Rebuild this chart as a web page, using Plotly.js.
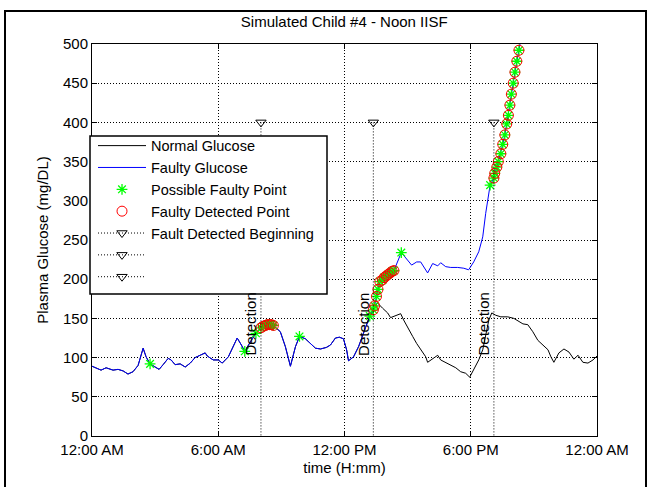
<!DOCTYPE html>
<html>
<head>
<meta charset="utf-8">
<script src="https://cdn.plot.ly/plotly-3.0.1.min.js"></script>
<style>
  html, body { margin: 0; padding: 0; background: #fff; }
  #chart { width: 652px; height: 487px; }
</style>
</head>
<body>
<div id="chart"></div>
<script>
// ---- data (time in hours since midnight, glucose in mg/dL) ----
const faultyTime = [0.00,0.19,0.43,0.67,0.86,1.00,1.24,1.48,1.71,1.95,2.19,2.43,2.57,2.76,3.00,3.19,3.38,3.62,3.76,3.95,4.19,4.43,4.67,4.90,5.14,5.38,5.48,5.76,6.00,6.19,6.48,6.71,6.90,7.10,7.26,7.57,7.79,8.03,8.14,8.24,8.33,8.43,8.52,8.62,8.95,9.19,9.43,9.67,9.86,10.14,10.38,10.62,10.86,11.14,11.33,11.57,11.76,11.95,12.10,12.19,12.43,12.67,12.90,13.20,13.37,13.43,13.52,13.59,13.68,13.80,13.88,13.98,14.07,14.17,14.26,14.35,14.70,14.90,15.19,15.43,15.62,15.95,16.19,16.43,16.57,16.81,17.05,17.38,17.67,17.90,18.14,18.38,18.57,18.71,18.86,18.92,19.10,19.14,19.24,19.31,19.43,19.52,19.62,19.71,19.79,19.86,19.93,20.02,20.10,20.19,20.29,20.38];
const faultyGlucose = [89,87,84,87,85,84,85,83,79,82,90,112,101,92,88,85,91,99,97,91,92,88,93,100,103,106,102,97,97,93,101,114,125,116,108,122,131,138,140,141,142,142,142,141,133,114,89,114,127,124,118,112,111,113,116,125,126,124,110,96,101,114,131,153,161,166,178,187,197,199,202,204,206,208,210,211,234,227,218,222,222,208,220,217,221,216,215,215,214,212,222,235,254,284,314,320,329,335,343,350,360,372,384,398,409,422,436,450,464,478,492,506];

const normalTime = [0.00,0.19,0.43,0.67,0.86,1.00,1.24,1.48,1.71,1.95,2.19,2.43,2.57,2.76,3.00,3.19,3.38,3.62,3.76,3.95,4.19,4.43,4.67,4.90,5.14,5.38,5.48,5.76,6.00,6.19,6.48,6.71,6.90,7.10,7.26,7.57,7.79,8.03,8.14,8.24,8.33,8.43,8.52,8.62,8.95,9.19,9.43,9.67,9.86,10.14,10.38,10.62,10.86,11.14,11.33,11.57,11.76,11.95,12.10,12.19,12.43,12.67,12.90,13.20,13.38,13.56,13.81,14.05,14.19,14.43,14.67,14.81,15.00,15.24,15.43,15.62,15.86,15.95,16.19,16.43,16.57,16.81,17.05,17.29,17.52,17.76,17.95,18.14,18.38,18.57,18.71,18.86,19.00,19.19,19.43,19.76,20.05,20.29,20.48,20.71,20.95,21.19,21.43,21.67,21.81,21.95,22.19,22.43,22.67,22.90,23.10,23.33,23.57,23.81,24.00];
const normalGlucose = [89,87,84,87,85,84,85,83,79,82,90,112,101,92,88,85,91,99,97,91,92,88,93,100,103,106,102,97,97,93,101,114,125,116,108,122,131,138,140,141,142,142,142,141,133,114,89,114,127,124,118,112,111,113,116,125,126,124,110,96,101,114,131,153,160,170,163,157,151,153,156,148,138,127,118,110,101,94,99,103,97,94,91,87,82,80,75,84,97,110,129,148,157,154,152,152,150,146,143,142,133,122,116,110,101,94,106,111,107,98,103,94,93,97,102];

const possibleTime = [2.76,7.26,7.79,9.86,13.20,14.70,18.92,
  8.03,8.14,8.24,8.33,8.43,8.52,8.62,
  13.37,13.43,13.52,13.59,13.68,13.80,13.88,13.98,14.07,14.17,14.26,14.35,
  19.10,19.14,19.24,19.31,19.43,19.52,19.62,19.71,19.79,19.86,19.93,20.02,20.10,20.19,20.29];
const possibleGlucose = [92,108,131,127,153,234,320,
  138,140,141,142,142,142,141,
  161,166,178,187,197,199,202,204,206,208,210,211,
  329,335,343,350,360,372,384,398,409,422,436,450,464,478,492];

const detectedTime = [8.03,8.14,8.24,8.33,8.43,8.52,8.62,
  13.37,13.43,13.52,13.59,13.68,13.80,13.88,13.98,14.07,14.17,14.26,14.35,
  19.10,19.14,19.24,19.31,19.43,19.52,19.62,19.71,19.79,19.86,19.93,20.02,20.10,20.19,20.29];
const detectedGlucose = [138,140,141,142,142,142,141,
  161,166,178,187,197,199,202,204,206,208,210,211,
  329,335,343,350,360,372,384,398,409,422,436,450,464,478,492];

const detectionStart = [8.03, 13.37, 19.10];
const detectionMarkerLevel = 400;
const detectionLabelLevel = 100;
const detectionNames = ['Fault Detected Beginning', ' ', ' '];

const tickHours = [0, 6, 12, 18, 24];
const tickLabels = ['12:00 AM', '6:00 AM', '12:00 PM', '6:00 PM', '12:00 AM'];

// ---- traces ----
const FONT = 'Liberation Sans, Arial, Helvetica, sans-serif';
const FS = 15;
const traces = [
  { x: normalTime, y: normalGlucose, mode: 'lines', name: 'Normal Glucose',
    line: { color: '#000000', width: 1 } },
  { x: faultyTime, y: faultyGlucose, mode: 'lines', name: 'Faulty Glucose',
    line: { color: '#0000ff', width: 1 } },
  { x: possibleTime, y: possibleGlucose, mode: 'markers', name: 'Possible Faulty Point',
    marker: { symbol: 'asterisk-open', size: 9, color: '#00ff00', line: { color: '#00ff00', width: 1.3 } } },
  { x: detectedTime, y: detectedGlucose, mode: 'markers', name: 'Faulty Detected Point',
    marker: { symbol: 'circle-open', size: 10, color: '#ff0000', line: { color: '#ff0000', width: 1 } } }
];
detectionStart.forEach((t, i) => {
  traces.push({
    x: [t, t], y: [detectionMarkerLevel, -60], mode: 'lines+markers', name: detectionNames[i],
    line: { color: '#000000', width: 1, dash: '1px,2px' },
    marker: { symbol: 'triangle-down-open', size: 9, color: '#000000', line: { color: '#000000', width: 1 } }
  });
});

const annotations = detectionStart.map(t => ({
  x: t, y: detectionLabelLevel, xref: 'x', yref: 'y', text: 'Detection',
  textangle: -90, showarrow: false, xanchor: 'right', yanchor: 'bottom',
  font: { family: FONT, size: FS, color: '#000' }
}));

const layout = {
  width: 652, height: 487,
  margin: { l: 92, r: 55, t: 44, b: 51, pad: 0 },
  paper_bgcolor: '#ffffff', plot_bgcolor: '#ffffff',
  font: { family: FONT, size: FS, color: '#000' },
  title: { text: 'Simulated Child #4 - Noon IISF', x: 0.528, xref: 'container', xanchor: 'center',
           y: 1 - 22 / 487, yref: 'container', yanchor: 'middle', font: { family: FONT, size: FS, color: '#000' } },
  xaxis: {
    range: [0, 24], tickvals: tickHours, ticktext: tickLabels,
    showline: true, linecolor: '#000', linewidth: 1, mirror: 'ticks',
    ticks: 'inside', ticklen: 5, tickcolor: '#000',
    showgrid: true, gridcolor: '#000', griddash: '1px,2px', gridwidth: 1, zeroline: false,
    title: { text: 'time (H:mm)', font: { family: FONT, size: FS }, standoff: 5 },
    tickfont: { family: FONT, size: FS }
  },
  yaxis: {
    range: [0, 500], dtick: 50, tick0: 0,
    showline: true, linecolor: '#000', linewidth: 1, mirror: 'ticks',
    ticks: 'inside', ticklen: 5, tickcolor: '#000',
    showgrid: true, gridcolor: '#000', griddash: '1px,2px', gridwidth: 1, zeroline: false,
    title: { text: 'Plasma Glucose (mg/DL)', font: { family: FONT, size: FS }, standoff: 10 },
    tickfont: { family: FONT, size: FS }
  },
  showlegend: true,
  legend: {
    x: 0.002, xanchor: 'left', y: 0.7814, yanchor: 'top',
    bgcolor: 'rgba(0,0,0,0)', borderwidth: 0,
    font: { family: FONT, size: 14.5, color: '#000' }, itemwidth: 48, traceorder: 'normal'
  },
  annotations: annotations,
  shapes: [
    {
      type: 'rect', xref: 'paper', yref: 'paper',
      x0: (5 - 92) / 505, x1: (646 - 92) / 505, y0: -0.3, y1: (436 - 11) / 392,
      line: { color: '#000', width: 2 }, fillcolor: 'rgba(0,0,0,0)', layer: 'below'
    },
    {
      type: 'rect', xref: 'paper', yref: 'paper',
      x0: (90 - 92) / 505, x1: (327 - 92) / 505, y0: (436 - 294) / 392, y1: (436 - 136) / 392,
      line: { color: '#000', width: 1.5 }, fillcolor: '#ffffff', layer: 'above'
    }
  ]
};

Plotly.newPlot('chart', traces, layout, { displayModeBar: false, staticPlot: true });
</script>
</body>
</html>
